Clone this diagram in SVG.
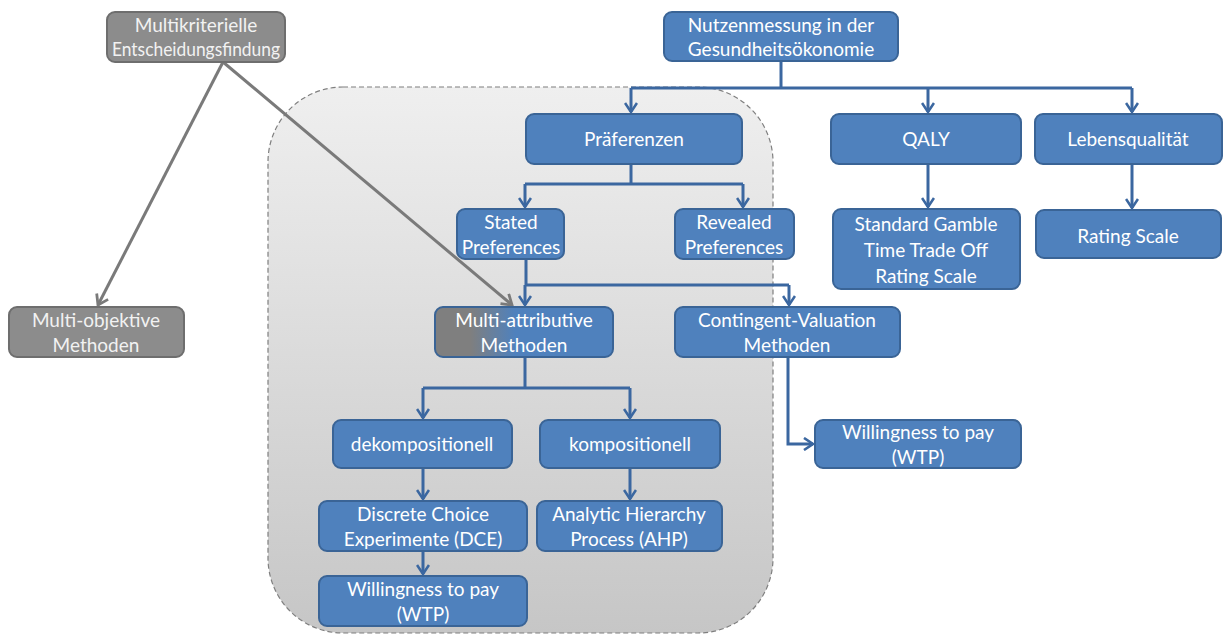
<svg xmlns="http://www.w3.org/2000/svg" width="1223" height="636" viewBox="0 0 1223 636">
  <defs>
    <linearGradient id="panelFill" x1="0" y1="0" x2="0" y2="1">
      <stop offset="0" stop-color="#efefef"/>
      <stop offset="1" stop-color="#c6c6c6"/>
    </linearGradient>
    <linearGradient id="mixFill" x1="0" y1="0" x2="1" y2="0">
      <stop offset="0" stop-color="#7f7f7f"/>
      <stop offset="0.2" stop-color="#7f7f7f"/>
      <stop offset="0.45" stop-color="#4f81bd"/>
      <stop offset="1" stop-color="#4f81bd"/>
    </linearGradient>
    <marker id="arrowBlue" viewBox="0 0 12 14" refX="10" refY="7" markerWidth="12" markerHeight="14" markerUnits="userSpaceOnUse" orient="auto">
      <path d="M1,1 L10,7 L1,13" fill="none" stroke="#3b67a0" stroke-width="2.6"/>
    </marker>
    <marker id="arrowGray" viewBox="0 0 12 14" refX="10" refY="7" markerWidth="13" markerHeight="15" markerUnits="userSpaceOnUse" orient="auto">
      <path d="M1,1 L10,7 L1,13" fill="none" stroke="#7a7a7a" stroke-width="2.6"/>
    </marker>
  </defs>
  <style>
    .box { fill: #4f81bd; stroke: #3a6496; stroke-width: 2; }
    .gbox { fill: #8c8c8c; stroke: #6e6e6e; stroke-width: 2; }
    .lbl { font-family: Lato, "Open Sans", "Liberation Sans", sans-serif; font-size: 19px; fill: #ffffff; text-anchor: middle; }
    .glbl { fill: #f2f2f2; }
    .conn { fill: none; stroke: #3b67a0; stroke-width: 3; }
    .gconn { fill: none; stroke: #7a7a7a; stroke-width: 3; }
  </style>

  <rect width="1223" height="636" fill="#ffffff"/>

  <!-- dashed container around preference methods -->
  <rect id="panel" x="268" y="87" width="505" height="546" rx="75" ry="75" fill="url(#panelFill)" stroke="#7f7f7f" stroke-width="1.2" stroke-dasharray="5,3"/>

  <g id="connectors">
    <!-- Nutzenmessung branches -->
    <path class="conn" d="M781,61 V88"/>
    <path class="conn" d="M631,88 H1132"/>
    <path class="conn" d="M631,88 V112" marker-end="url(#arrowBlue)"/>
    <path class="conn" d="M928,88 V112" marker-end="url(#arrowBlue)"/>
    <path class="conn" d="M1132,88 V112" marker-end="url(#arrowBlue)"/>
    <!-- Präferenzen branches -->
    <path class="conn" d="M631,164 V184 M525,184 H743"/>
    <path class="conn" d="M525,184 V207" marker-end="url(#arrowBlue)"/>
    <path class="conn" d="M743,184 V207" marker-end="url(#arrowBlue)"/>
    <!-- Stated Preferences branches -->
    <path class="conn" d="M526,259 V285 M525,285 H789"/>
    <path class="conn" d="M525,285 V305" marker-end="url(#arrowBlue)"/>
    <path class="conn" d="M789,285 V305" marker-end="url(#arrowBlue)"/>
    <!-- Multi-attributive branches -->
    <path class="conn" d="M525,357 V388 M423,388 H630"/>
    <path class="conn" d="M423,388 V418" marker-end="url(#arrowBlue)"/>
    <path class="conn" d="M630,388 V418" marker-end="url(#arrowBlue)"/>
    <path class="conn" d="M423,468 V499" marker-end="url(#arrowBlue)"/>
    <path class="conn" d="M630,468 V499" marker-end="url(#arrowBlue)"/>
    <path class="conn" d="M423,551 V574" marker-end="url(#arrowBlue)"/>
    <!-- Contingent-Valuation to WTP -->
    <path class="conn" d="M788,357 V444 H813" marker-end="url(#arrowBlue)"/>
    <!-- QALY and Lebensqualität -->
    <path class="conn" d="M928,164 V207" marker-end="url(#arrowBlue)"/>
    <path class="conn" d="M1132,164 V208" marker-end="url(#arrowBlue)"/>
    <!-- multi-criteria links -->
    <path class="gconn" d="M223,62 L98,305" marker-end="url(#arrowGray)"/>
    <path class="gconn" d="M223,62 L512,305" marker-end="url(#arrowGray)"/>
  </g>

  <g id="node-mcda">
    <rect class="gbox" x="107" y="12" width="178" height="50" rx="8"/>
    <text class="lbl glbl" x="196" y="32">Multikriterielle</text>
    <text class="lbl glbl" x="196" y="56" textLength="168" lengthAdjust="spacingAndGlyphs">Entscheidungsfindung</text>
  </g>
  <g id="node-nutzen">
    <rect class="box" x="664" y="12" width="234" height="49" rx="8"/>
    <text class="lbl" x="781" y="32">Nutzenmessung  in der</text>
    <text class="lbl" x="781" y="56">Gesundheitsökonomie</text>
  </g>
  <g id="node-praef">
    <rect class="box" x="526" y="114" width="216" height="50" rx="8"/>
    <text class="lbl" x="634" y="146">Präferenzen</text>
  </g>
  <g id="node-qaly">
    <rect class="box" x="831" y="114" width="190" height="50" rx="8"/>
    <text class="lbl" x="926" y="146">QALY</text>
  </g>
  <g id="node-lq">
    <rect class="box" x="1035" y="114" width="187" height="50" rx="8"/>
    <text class="lbl" x="1128" y="146">Lebensqualität</text>
  </g>
  <g id="node-stated">
    <rect class="box" x="457" y="209" width="107" height="50" rx="8"/>
    <text class="lbl" x="511" y="229">Stated</text>
    <text class="lbl" x="511" y="254">Preferences</text>
  </g>
  <g id="node-revealed">
    <rect class="box" x="675" y="209" width="119" height="50" rx="8"/>
    <text class="lbl" x="734" y="229">Revealed</text>
    <text class="lbl" x="734" y="254">Preferences</text>
  </g>
  <g id="node-sg">
    <rect class="box" x="833" y="209" width="187" height="80" rx="8"/>
    <text class="lbl" x="926" y="231">Standard Gamble</text>
    <text class="lbl" x="926" y="257">Time Trade Off</text>
    <text class="lbl" x="926" y="283">Rating Scale</text>
  </g>
  <g id="node-rs">
    <rect class="box" x="1036" y="210" width="185" height="48" rx="8"/>
    <text class="lbl" x="1128" y="243">Rating Scale</text>
  </g>
  <g id="node-mo">
    <rect class="gbox" x="9" y="307" width="175" height="50" rx="8"/>
    <text class="lbl glbl" x="96" y="327">Multi-objektive</text>
    <text class="lbl glbl" x="96" y="352">Methoden</text>
  </g>
  <g id="node-ma">
    <rect x="435" y="307" width="178" height="50" rx="8" fill="url(#mixFill)" stroke="#3a6496" stroke-width="2"/>
    <text class="lbl" x="524" y="327">Multi-attributive</text>
    <text class="lbl" x="524" y="352">Methoden</text>
  </g>
  <g id="node-cv">
    <rect class="box" x="675" y="307" width="225" height="50" rx="8"/>
    <text class="lbl" x="787" y="327">Contingent-Valuation</text>
    <text class="lbl" x="787" y="352">Methoden</text>
  </g>
  <g id="node-wtp-cv">
    <rect class="box" x="815" y="420" width="206" height="48" rx="8"/>
    <text class="lbl" x="918" y="439">Willingness to pay</text>
    <text class="lbl" x="918" y="464">(WTP)</text>
  </g>
  <g id="node-dekomp">
    <rect class="box" x="333" y="420" width="179" height="48" rx="8"/>
    <text class="lbl" x="422" y="451">dekompositionell</text>
  </g>
  <g id="node-komp">
    <rect class="box" x="540" y="420" width="180" height="48" rx="8"/>
    <text class="lbl" x="630" y="451">kompositionell</text>
  </g>
  <g id="node-dce">
    <rect class="box" x="319" y="501" width="208" height="50" rx="8"/>
    <text class="lbl" x="423" y="521">Discrete Choice</text>
    <text class="lbl" x="423" y="546">Experimente (DCE)</text>
  </g>
  <g id="node-ahp">
    <rect class="box" x="537" y="501" width="185" height="50" rx="8"/>
    <text class="lbl" x="629" y="521">Analytic Hierarchy</text>
    <text class="lbl" x="629" y="546">Process (AHP)</text>
  </g>
  <g id="node-wtp-dce">
    <rect class="box" x="319" y="576" width="208" height="50" rx="8"/>
    <text class="lbl" x="423" y="596">Willingness to pay</text>
    <text class="lbl" x="423" y="621">(WTP)</text>
  </g>
</svg>
